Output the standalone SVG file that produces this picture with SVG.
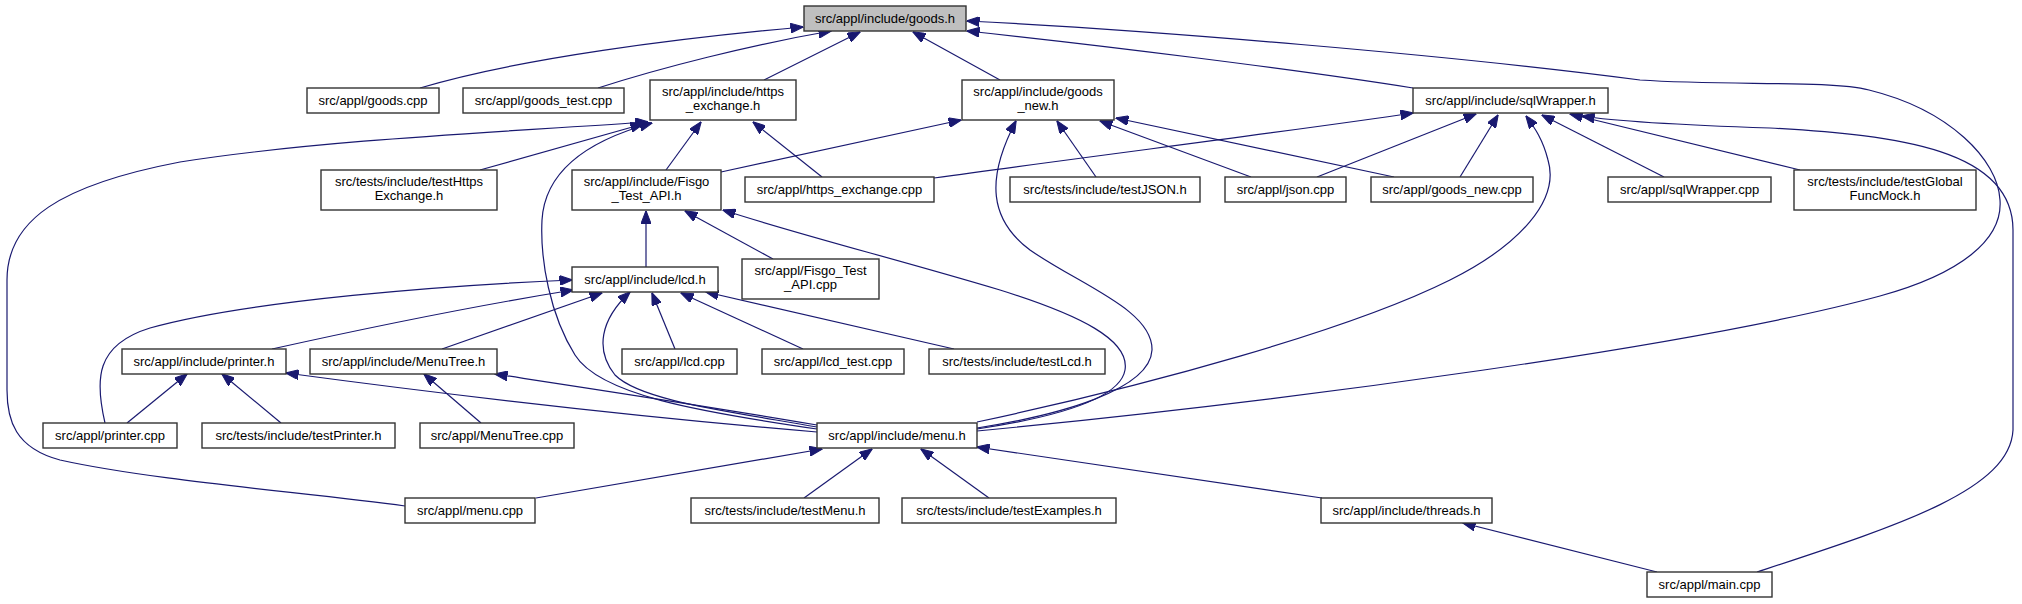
<svg xmlns="http://www.w3.org/2000/svg" width="2022" height="604" viewBox="0 0 2022 604">
<defs>
<marker id="ah" markerUnits="userSpaceOnUse" markerWidth="13" markerHeight="10" viewBox="0 0 13 10" refX="12.5" refY="5" orient="auto">
<path d="M0,0 L13,5 L0,10 z" fill="#191970" stroke="#191970" stroke-width="1"/>
</marker>
</defs>
<style>
.n rect{fill:#ffffff;stroke:#333333;stroke-width:1.4}
.n.root rect{fill:#bfbfbf}
.n text{font-family:"Liberation Sans",Arial,sans-serif;font-size:13px;fill:#000000;text-anchor:middle}
.e path{fill:none;stroke:#191970;stroke-width:1.2;marker-end:url(#ah)}
</style>
<rect width="2022" height="604" fill="#ffffff"/>
<g id="edges" class="e">
<path d="M420,88 C520,58 680,38 803,27"/>
<path d="M598,88 C660,68 750,45 831,31"/>
<path d="M764,80 L860,32"/>
<path d="M1000,80 L913,32"/>
<path d="M1413,88 C1300,70 1100,45 967,31"/>
<path d="M977,431 C1300,400 1700,345 1880,296 C1960,274 2003,240 2000,200 C1998,160 1950,110 1869,90 C1830,80 1730,86 1640,80 C1450,55 1150,30 967,21"/>
<path d="M1664,177 L1542,115"/>
<path d="M1800,170 L1570,114"/>
<path d="M1757,572 C1900,525 2010,490 2013,430 L2013,230 C2013,150 1900,135 1770,128 C1680,125 1620,122 1582,116"/>
<path d="M977,422 C1150,385 1350,330 1450,280 C1520,245 1560,200 1548,160 C1543,140 1535,128 1526,116"/>
<path d="M1460,177 L1498,115"/>
<path d="M1317,177 L1476,114"/>
<path d="M934,178 C1100,155 1300,130 1413,113"/>
<path d="M1394,177 L1116,118"/>
<path d="M1251,177 L1100,121"/>
<path d="M1096,177 L1057,121"/>
<path d="M721,172 L961,120"/>
<path d="M977,428 C1060,415 1150,390 1152,350 C1153,310 1080,285 1030,250 C990,220 985,180 1016,121"/>
<path d="M977,429 C1050,418 1120,400 1125,370 C1130,340 1080,315 1000,290 C900,260 800,235 723,210"/>
<path d="M817,429 C700,412 600,395 575,355 C550,315 540,260 542,220 C545,170 590,140 652,123"/>
<path d="M817,427 C720,410 640,400 615,375 C595,350 600,320 630,292"/>
<path d="M675,349 L652,293"/>
<path d="M803,349 L681,293"/>
<path d="M954,349 L706,292"/>
<path d="M773,259 L685,211"/>
<path d="M646,267 L646,211"/>
<path d="M105,423 C95,380 95,345 150,328 C250,300 450,285 572,280"/>
<path d="M272,349 C380,325 480,305 573,290"/>
<path d="M442,349 L602,293"/>
<path d="M127,423 L187,374"/>
<path d="M281,423 L222,374"/>
<path d="M817,432 C650,418 450,395 286,373"/>
<path d="M481,423 L424,374"/>
<path d="M817,425 C700,405 600,390 495,374"/>
<path d="M536,498 L822,449"/>
<path d="M804,498 L872,449"/>
<path d="M989,498 L921,449"/>
<path d="M1322,498 L977,447"/>
<path d="M1657,572 L1463,523"/>
<path d="M480,170 L643,124"/>
<path d="M405,506 C300,492 150,480 60,460 C15,448 7,420 7,390 L7,280 C7,220 60,185 180,162 C320,140 500,132 648,122"/>
<path d="M666,170 L701,122"/>
<path d="M822,177 L753,122"/>
</g>
<g id="goods_h" class="n root"><rect x="804" y="6" width="162" height="25"/><text x="885" y="23">src/appl/include/goods.h</text></g>
<g id="goods_cpp" class="n"><rect x="307" y="88" width="132" height="25"/><text x="373" y="105">src/appl/goods.cpp</text></g>
<g id="goods_test_cpp" class="n"><rect x="463" y="88" width="161" height="25"/><text x="543.5" y="105">src/appl/goods_test.cpp</text></g>
<g id="https_exchange_h" class="n"><rect x="650" y="80" width="146" height="40"/><text x="723" y="95.5">src/appl/include/https</text><text x="723" y="110">_exchange.h</text></g>
<g id="goods_new_h" class="n"><rect x="962" y="80" width="152" height="40"/><text x="1038" y="95.5">src/appl/include/goods</text><text x="1038" y="110">_new.h</text></g>
<g id="sqlWrapper_h" class="n"><rect x="1413" y="88" width="195" height="25"/><text x="1510.5" y="105">src/appl/include/sqlWrapper.h</text></g>
<g id="testHttpsExchange_h" class="n"><rect x="321" y="170" width="176" height="40"/><text x="409" y="185.5">src/tests/include/testHttps</text><text x="409" y="200">Exchange.h</text></g>
<g id="Fisgo_Test_API_h" class="n"><rect x="572" y="170" width="149" height="40"/><text x="646.5" y="185.5">src/appl/include/Fisgo</text><text x="646.5" y="200">_Test_API.h</text></g>
<g id="https_exchange_cpp" class="n"><rect x="745" y="177" width="189" height="25"/><text x="839.5" y="194">src/appl/https_exchange.cpp</text></g>
<g id="testJSON_h" class="n"><rect x="1010" y="177" width="190" height="25"/><text x="1105" y="194">src/tests/include/testJSON.h</text></g>
<g id="json_cpp" class="n"><rect x="1225" y="177" width="121" height="25"/><text x="1285.5" y="194">src/appl/json.cpp</text></g>
<g id="goods_new_cpp" class="n"><rect x="1371" y="177" width="162" height="25"/><text x="1452" y="194">src/appl/goods_new.cpp</text></g>
<g id="sqlWrapper_cpp" class="n"><rect x="1608" y="177" width="163" height="25"/><text x="1689.5" y="194">src/appl/sqlWrapper.cpp</text></g>
<g id="testGlobalFuncMock_h" class="n"><rect x="1794" y="170" width="182" height="40"/><text x="1885" y="185.5">src/tests/include/testGlobal</text><text x="1885" y="200">FuncMock.h</text></g>
<g id="lcd_h" class="n"><rect x="572" y="267" width="146" height="25"/><text x="645" y="284">src/appl/include/lcd.h</text></g>
<g id="Fisgo_Test_API_cpp" class="n"><rect x="742" y="259" width="137" height="40"/><text x="810.5" y="274.5">src/appl/Fisgo_Test</text><text x="810.5" y="289">_API.cpp</text></g>
<g id="printer_h" class="n"><rect x="122" y="349" width="164" height="25"/><text x="204" y="366">src/appl/include/printer.h</text></g>
<g id="MenuTree_h" class="n"><rect x="310" y="349" width="187" height="25"/><text x="403.5" y="366">src/appl/include/MenuTree.h</text></g>
<g id="lcd_cpp" class="n"><rect x="622" y="349" width="115" height="25"/><text x="679.5" y="366">src/appl/lcd.cpp</text></g>
<g id="lcd_test_cpp" class="n"><rect x="762" y="349" width="142" height="25"/><text x="833" y="366">src/appl/lcd_test.cpp</text></g>
<g id="testLcd_h" class="n"><rect x="929" y="349" width="176" height="25"/><text x="1017" y="366">src/tests/include/testLcd.h</text></g>
<g id="printer_cpp" class="n"><rect x="43" y="423" width="134" height="25"/><text x="110" y="440">src/appl/printer.cpp</text></g>
<g id="testPrinter_h" class="n"><rect x="202" y="423" width="193" height="25"/><text x="298.5" y="440">src/tests/include/testPrinter.h</text></g>
<g id="MenuTree_cpp" class="n"><rect x="420" y="423" width="154" height="25"/><text x="497" y="440">src/appl/MenuTree.cpp</text></g>
<g id="menu_h" class="n"><rect x="817" y="423" width="160" height="25"/><text x="897" y="440">src/appl/include/menu.h</text></g>
<g id="menu_cpp" class="n"><rect x="405" y="498" width="130" height="25"/><text x="470" y="515">src/appl/menu.cpp</text></g>
<g id="testMenu_h" class="n"><rect x="691" y="498" width="188" height="25"/><text x="785" y="515">src/tests/include/testMenu.h</text></g>
<g id="testExamples_h" class="n"><rect x="902" y="498" width="214" height="25"/><text x="1009" y="515">src/tests/include/testExamples.h</text></g>
<g id="threads_h" class="n"><rect x="1321" y="498" width="171" height="25"/><text x="1406.5" y="515">src/appl/include/threads.h</text></g>
<g id="main_cpp" class="n"><rect x="1647" y="572" width="125" height="25"/><text x="1709.5" y="589">src/appl/main.cpp</text></g>
</svg>
